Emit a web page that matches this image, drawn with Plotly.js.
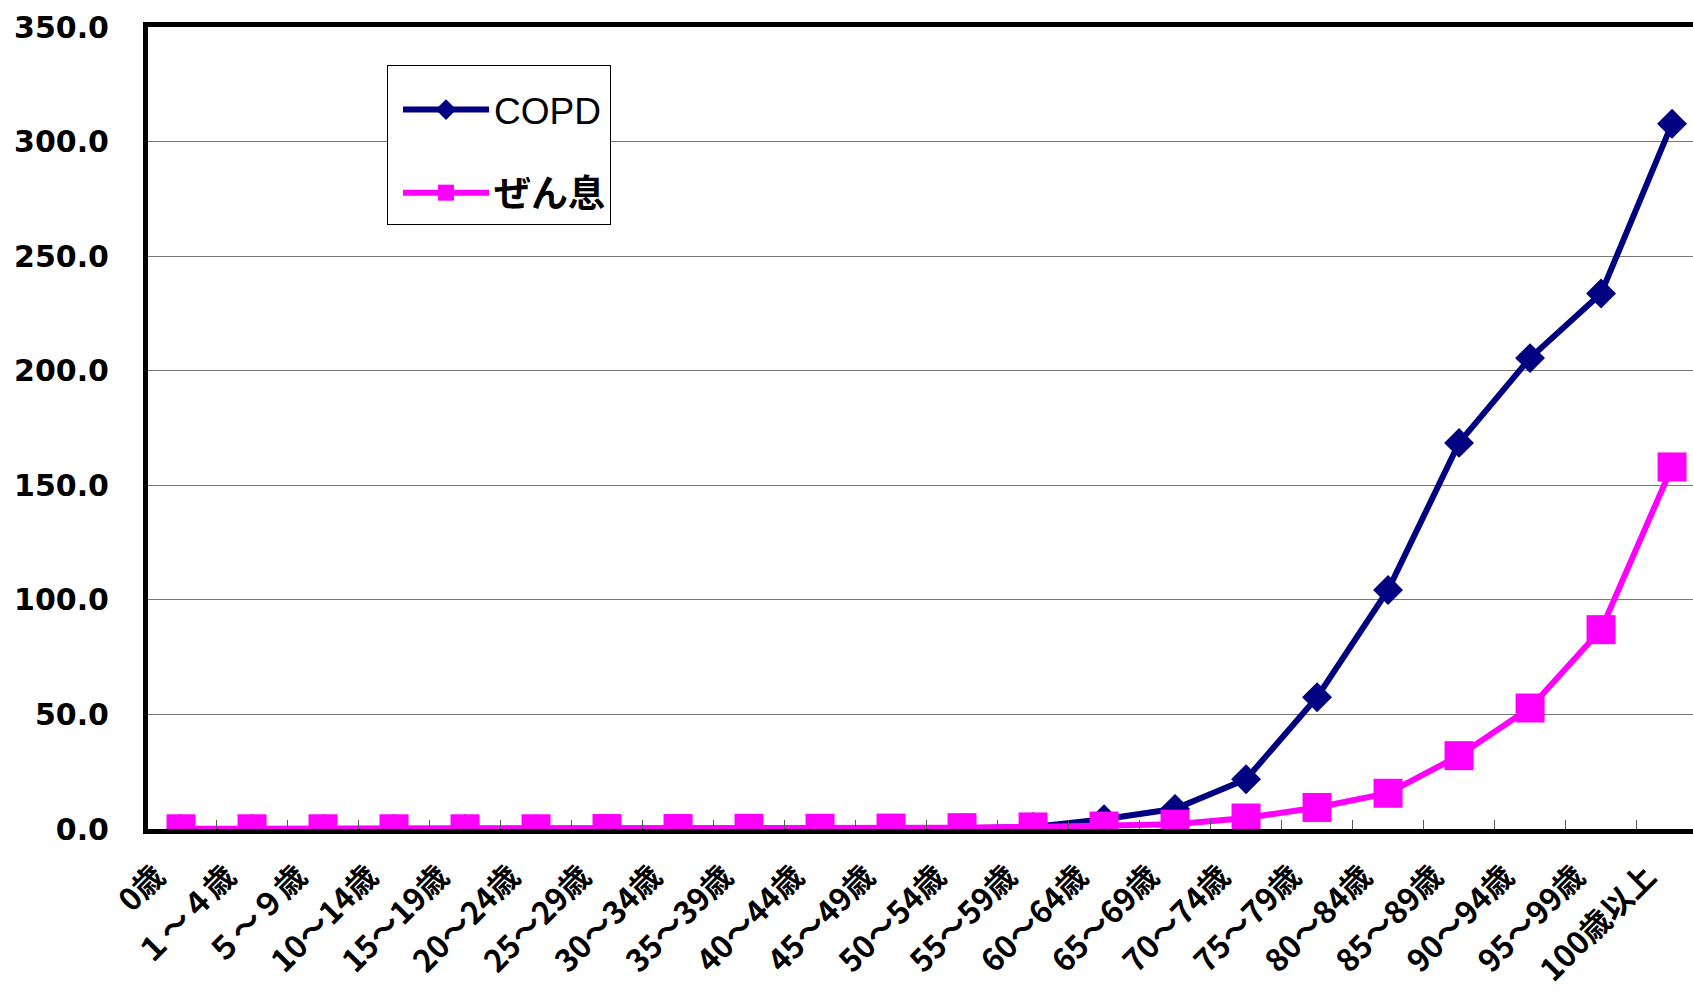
<!DOCTYPE html>
<html>
<head>
<meta charset="utf-8">
<script src="https://cdn.plot.ly/plotly-3.0.1.min.js"></script>
<style>html,body{margin:0;padding:0;background:#fff;overflow:hidden}</style>
</head>
<body>
<div id="chart" style="width:1693px;height:992px"></div>
<script>
const categories = ['0歳','１～４歳','５～９歳','10～14歳','15～19歳','20～24歳','25～29歳','30～34歳','35～39歳','40～44歳','45～49歳','50～54歳','55～59歳','60～64歳','65～69歳','70～74歳','75～79歳','80～84歳','85～89歳','90～94歳','95～99歳','100歳以上'];
const copd = [0.0,0.0,0.0,0.0,0.0,0.0,0.0,0.0,0.0,0.1,0.1,0.3,0.9,4.3,8.8,21.7,57.5,104.3,168.5,205.5,233.7,307.8];
const asthma = [0.1,0.1,0.1,0.1,0.1,0.1,0.2,0.2,0.3,0.3,0.4,0.6,0.9,1.3,2.1,4.8,9.4,15.6,32.0,52.8,87.0,158.0];
const yTickValues = [0,50,100,150,200,250,300,350];
const yTickLabels = ['0.0','50.0','100.0','150.0','200.0','250.0','300.0','350.0'];
const seriesNames = ['COPD','<b>ぜん息</b>'];

const traces = [
  {
    type:'scatter', mode:'lines+markers', name:seriesNames[0], legendgroup:'a',
    x:categories, y:copd,
    line:{color:'#000080', width:6},
    marker:{symbol:'diamond', size:23, color:'#000080'}
  },
  {
    type:'scatter', mode:'lines+markers', name:seriesNames[1], legendgroup:'b',
    x:categories, y:asthma,
    line:{color:'#FF00FF', width:6},
    marker:{symbol:'square', size:29, color:'#FF00FF'}
  }
];

const layout = {
  width:1693, height:992,
  margin:{l:148, r:0, t:27, b:163},
  paper_bgcolor:'#fff', plot_bgcolor:'#fff',
  showlegend:true,
  legend:{
    x:0.1547, y:0.9526, xanchor:'left', yanchor:'top',
    bgcolor:'#fff', bordercolor:'#000', borderwidth:1,
    font:{family:'Liberation Sans, Noto Sans CJK JP', size:37, color:'#000'},
    title:{text:' ', font:{size:10}},
    indentation:10,
    itemwidth:86, tracegroupgap:32
  },
  xaxis:{
    type:'category', range:[-0.465, 21.295], automargin:false,
    showline:true, linewidth:5, linecolor:'#000', mirror:true,
    ticks:'inside', ticklen:9, tickwidth:1.5, tickcolor:'#555', tickson:'boundaries',
    tickangle:-45, ticklabelstandoff:12, ticklabelshift:-25,
    tickfont:{family:'Noto Sans CJK JP', size:31, weight:'bold', color:'#000'},
    showgrid:false, zeroline:false, fixedrange:true
  },
  yaxis:{
    range:[0,350], automargin:false,
    tickmode:'array', tickvals:yTickValues, ticktext:yTickLabels,
    showline:true, linewidth:5, linecolor:'#000', mirror:false,
    showgrid:true, gridcolor:'#777', gridwidth:1,
    ticks:'', ticklabelstandoff:28,
    tickfont:{family:'DejaVu Sans', size:30, weight:'bold', color:'#000'},
    zeroline:false, fixedrange:true
  },
  hovermode:false
};

Plotly.newPlot('chart', traces, layout, {displayModeBar:false, staticPlot:true});
</script>
</body>
</html>
